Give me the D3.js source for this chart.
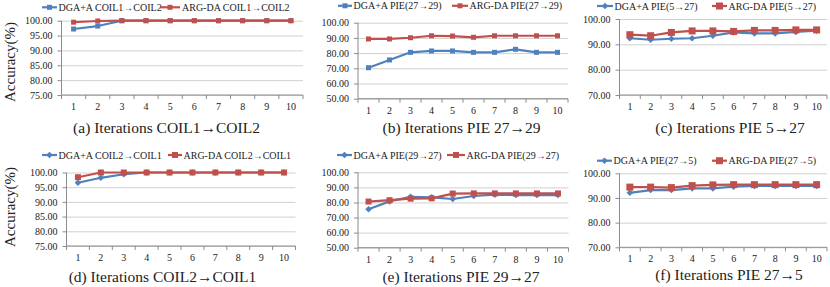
<!DOCTYPE html>
<html>
<head>
<meta charset="utf-8">
<script src="https://cdn.jsdelivr.net/npm/d3@7"></script>
<style>
  html, body { margin: 0; padding: 0; background: #fff; }
  svg { display: block; font-family: "Liberation Serif", "Times New Roman", serif; }
</style>
</head>
<body>
<svg id="chart" width="830" height="287"></svg>
<script>
// ---------------- data ----------------
const categories = ["1", "2", "3", "4", "5", "6", "7", "8", "9", "10"];

const yTicksCOIL = [75, 80, 85, 90, 95, 100];
const yTicksPIE_b = [50, 60, 70, 80, 90, 100];
const yTicksPIE_c = [70, 80, 90, 100];

const seriesNames = ["DGA+A", "ARG-DA"];

const titles = [
  "(a) Iterations COIL1\u2192COIL2",
  "(b) Iterations PIE 27\u219229",
  "(c) Iterations PIE 5\u219227",
  "(d) Iterations COIL2\u2192COIL1",
  "(e) Iterations PIE 29\u219227",
  "(f) Iterations PIE 27\u21925"
];
const tasks = [
  "COIL1\u2192COIL2",
  "PIE(27\u219229)",
  "PIE(5\u219227)",
  "COIL2\u2192COIL1",
  "PIE(29\u219227)",
  "PIE(27\u21925)"
];

const a_dga = [97.2, 98.2, 100, 100, 100, 100, 100, 100, 100, 100];
const a_arg = [99.5, 99.9, 100, 100, 100, 100, 100, 100, 100, 100];

const b_dga = [70.4, 75.5, 80.5, 81.4, 81.4, 80.5, 80.5, 82.5, 80.5, 80.5];
const b_arg = [89.3, 89.3, 90.1, 91.4, 91.2, 90.4, 91.4, 91.4, 91.4, 91.4];

const c_dga = [92.4, 91.8, 92.2, 92.4, 93.4, 94.7, 94.3, 94.3, 94.9, 95.4];
const c_arg = [93.8, 93.4, 94.7, 95.3, 95.3, 95.1, 95.5, 95.5, 95.7, 95.7];

const d_dga = [96.5, 98.2, 99.4, 100, 100, 100, 100, 100, 100, 100];
const d_arg = [98.4, 100, 100, 100, 100, 100, 100, 100, 100, 100];

const e_dga = [75.5, 80.7, 83.8, 83.4, 82.3, 84.3, 85.2, 84.9, 84.9, 84.9];
const e_arg = [80.6, 81.5, 82.5, 82.7, 85.9, 86.0, 86.0, 86.0, 86.0, 86.0];

const f_dga = [92.1, 93.2, 93.2, 93.9, 93.9, 94.6, 94.9, 94.9, 94.9, 94.9];
const f_arg = [94.4, 94.4, 94.2, 95.0, 95.3, 95.4, 95.4, 95.4, 95.4, 95.4];

// ---------------- layout / style ----------------
const BLUE = "#4F81BD", RED = "#C0504D";
const GRID = "#d0d0d0", AXIS = "#8c8c8c", TEXT = "#222";

const panels = [
  { dga: a_dga, arg: a_arg, ticks: yTicksCOIL, x0: 61.5, x1: 303, yT: 20.7, yB: 95,
    leg: { y: 7.3, l1: [42, 57], t1: 58.5, l2: [160, 180], t2: 182 },
    sub: { x: 166.5, y: 133 }, mk: ["square", "square"], ms: [5, 5] },
  { dga: b_dga, arg: b_arg, ticks: yTicksPIE_b, x0: 358, x1: 568, yT: 22.7, yB: 98.7,
    leg: { y: 5.8, l1: [338, 352], t1: 353.5, l2: [452, 468], t2: 469.5 },
    sub: { x: 461.5, y: 133.3 }, mk: ["square", "square"], ms: [5, 5] },
  { dga: c_dga, arg: c_arg, ticks: yTicksPIE_c, x0: 619.5, x1: 827, yT: 19, yB: 95,
    leg: { y: 6, l1: [597, 613], t1: 614.5, l2: [712, 727], t2: 728.5 },
    sub: { x: 730, y: 133 }, mk: ["diamond", "square"], ms: [5, 7] },
  { dga: d_dga, arg: d_arg, ticks: yTicksCOIL, x0: 66.5, x1: 295.5, yT: 172.5, yB: 246,
    leg: { y: 155, l1: [42, 57], t1: 58.5, l2: [168, 182], t2: 183.5 },
    sub: { x: 162.5, y: 282 }, mk: ["diamond", "square"], ms: [5, 6] },
  { dga: e_dga, arg: e_arg, ticks: yTicksPIE_b, x0: 358, x1: 568.5, yT: 172.3, yB: 247.7,
    leg: { y: 155, l1: [337, 352], t1: 353.5, l2: [447, 465], t2: 466.5 },
    sub: { x: 461, y: 282 }, mk: ["diamond", "square"], ms: [5, 6] },
  { dga: f_dga, arg: f_arg, ticks: yTicksPIE_c, x0: 619.5, x1: 827, yT: 173.3, yB: 247.3,
    leg: { y: 160.7, l1: [597, 612], t1: 613.5, l2: [712, 727], t2: 728.5 },
    sub: { x: 729, y: 280 }, mk: ["diamond", "square"], ms: [5, 7] }
];

const svg = d3.select("#chart");

function marker(g, type, cx, cy, size, color) {
  if (type === "square") {
    g.append("rect").attr("x", cx - size / 2).attr("y", cy - size / 2)
      .attr("width", size).attr("height", size).attr("fill", color);
  } else {
    const r = size / 2 + 0.8;
    g.append("path")
      .attr("d", `M${cx},${cy - r}L${cx + r},${cy}L${cx},${cy + r}L${cx - r},${cy}Z`)
      .attr("fill", color);
  }
}

panels.forEach((p, i) => {
  const g = svg.append("g");
  const xb = d3.scaleBand().domain(categories).range([p.x0, p.x1]).padding(0);
  const xc = d => xb(d) + xb.bandwidth() / 2;
  const y = d3.scaleLinear().domain([p.ticks[0], p.ticks[p.ticks.length - 1]]).range([p.yB, p.yT]);

  // gridlines
  g.append("g").attr("transform", `translate(${p.x0},0)`)
    .call(d3.axisLeft(y).tickValues(p.ticks).tickSize(-(p.x1 - p.x0)).tickFormat(""))
    .call(a => a.select(".domain").remove())
    .call(a => a.selectAll("line").attr("stroke", GRID).attr("stroke-width", 1));

  // y axis
  g.append("g").attr("transform", `translate(${p.x0},0)`)
    .call(d3.axisLeft(y).tickValues(p.ticks).tickSize(4).tickPadding(5).tickFormat(d3.format(".2f")))
    .call(a => a.select(".domain").attr("stroke", AXIS).attr("d", `M-0,${p.yB}V${p.yT}`))
    .call(a => a.selectAll("line").attr("stroke", AXIS))
    .call(a => a.selectAll("text").attr("fill", TEXT).style("font-size", "10px")
      .style("font-family", "'Liberation Serif', serif"));

  // x axis (labels centered in bands)
  g.append("g").attr("transform", `translate(0,${p.yB})`)
    .call(d3.axisBottom(xb).tickSize(0).tickPadding(8))
    .call(a => a.select(".domain").attr("stroke", AXIS).attr("d", `M${p.x0},0H${p.x1}`))
    .call(a => a.selectAll("text").attr("fill", TEXT).style("font-size", "10px")
      .style("font-family", "'Liberation Serif', serif"));

  // boundary ticks
  const edges = categories.map(c => xb(c)).concat([p.x1]);
  g.append("g").selectAll("line").data(edges).join("line")
    .attr("x1", d => d).attr("x2", d => d)
    .attr("y1", p.yB).attr("y2", p.yB + 4)
    .attr("stroke", AXIS);

  // series
  const series = [{ vals: p.dga, color: BLUE, mk: p.mk[0], ms: p.ms[0] },
                  { vals: p.arg, color: RED, mk: p.mk[1], ms: p.ms[1] }];
  series.forEach(s => {
    const line = d3.line().x((d, k) => xc(categories[k])).y(d => y(d));
    g.append("path").datum(s.vals).attr("d", line)
      .attr("fill", "none").attr("stroke", s.color).attr("stroke-width", 2.2)
      .attr("stroke-linejoin", "round");
    s.vals.forEach((v, k) => marker(g, s.mk, xc(categories[k]), y(v), s.ms, s.color));
  });

  // legend
  const L = p.leg;
  [[L.l1, L.t1, BLUE, p.mk[0], p.ms[0], seriesNames[0]],
   [L.l2, L.t2, RED, p.mk[1], p.ms[1], seriesNames[1]]].forEach(([ln, tx, col, mk, ms, nm]) => {
    g.append("line").attr("x1", ln[0]).attr("x2", ln[1]).attr("y1", L.y).attr("y2", L.y)
      .attr("stroke", col).attr("stroke-width", 2.2);
    marker(g, mk, (ln[0] + ln[1]) / 2, L.y, ms, col);
    g.append("text").attr("x", tx).attr("y", L.y + 3.5)
      .attr("fill", TEXT).style("font-size", "10px")
      .text(nm + " " + tasks[i]);
  });

  // subtitle
  g.append("text").attr("x", p.sub.x).attr("y", p.sub.y)
    .attr("text-anchor", "middle").attr("fill", TEXT).style("font-size", "15.5px")
    .text(titles[i]);
});

// y axis titles
[62, 207].forEach(cy => {
  svg.append("text").attr("transform", `translate(15,${cy}) rotate(-90)`)
    .attr("text-anchor", "middle").attr("fill", TEXT).style("font-size", "15px")
    .text("Accuracy(%)");
});
</script>
</body>
</html>
